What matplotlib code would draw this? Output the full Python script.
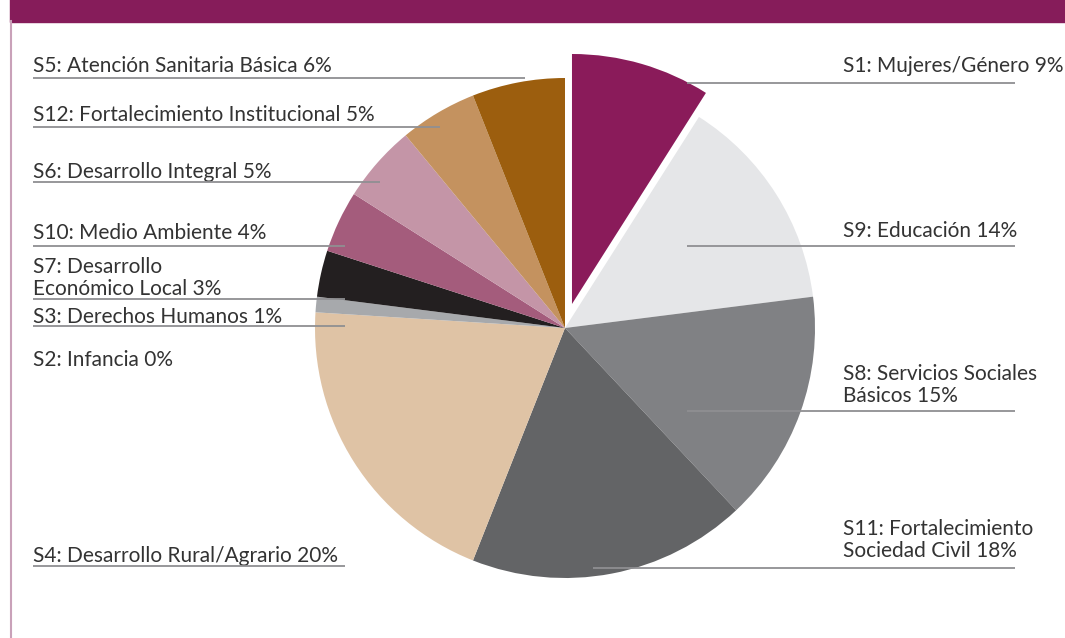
import matplotlib
matplotlib.use("Agg")
import matplotlib.pyplot as plt
from matplotlib.patches import Rectangle

# ---- data ----
sectors = ["S1: Mujeres/Género", "S9: Educación", "S8: Servicios Sociales\nBásicos",
           "S11: Fortalecimiento\nSociedad Civil", "S4: Desarrollo Rural/Agrario",
           "S2: Infancia", "S3: Derechos Humanos", "S7: Desarrollo\nEconómico Local",
           "S10: Medio Ambiente", "S6: Desarrollo Integral",
           "S12: Fortalecimiento Institucional", "S5: Atención Sanitaria Básica"]
shares = [9, 14, 15, 18, 20, 0, 1, 3, 4, 5, 5, 6]
colors = ["#8A1B5A", "#E5E6E8", "#808184", "#636466", "#DFC3A5", "#F2E0CC",
          "#A7A9AC", "#231F20", "#A45C7C", "#C495A7", "#C4925F", "#9C5E0E"]

# ---- layout (pixel coordinates, y from top) ----
W, H = 1065, 638
CX, CY, R = 565, 328, 250
# label: (text x, text y-center, line y, line x0, line x1)
label_layout = [
    (843, 66, 83, 687, 1015),
    (843, 231, 246, 687, 1015),
    (843, 385, 411, 687, 1015),
    (843, 540, 568, 593, 1015),
    (33, 556, 566, 33, 345),
    (33, 360, None, None, None),
    (33, 317, 326, 33, 345),
    (33, 278, 299, 33, 345),
    (33, 233, 246, 33, 345),
    (33, 172, 182, 33, 380),
    (33, 115, 127, 33, 440),
    (33, 66, 78, 33, 525),
]

fig = plt.figure(figsize=(W / 100, H / 100), dpi=100)
ax = fig.add_axes([0, 0, 1, 1])

def fy(y):
    return H - y

explode = [25 if i == 0 else 0 for i in range(len(shares))]
ax.pie(shares, colors=colors, startangle=90, counterclock=False,
       center=(CX, fy(CY)), radius=R, explode=explode,
       wedgeprops=dict(linewidth=0), frame=True)

ax.set_xlim(0, W)
ax.set_ylim(0, H)
ax.set_aspect('auto')
ax.axis('off')

# banner and left border
ax.add_patch(Rectangle((10, fy(21.5)), W - 10, 25, color="#861C5A", zorder=5))
ax.plot([11, 11], [fy(21), fy(H + 5)], color="#C9A1B9", lw=1.5, zorder=5)

text_font = dict(family=["Lato", "DejaVu Sans"], fontsize=15, fontweight="normal",
                 color="#333333")
for name, val, (tx, ty, ly, lx0, lx1) in zip(sectors, shares, label_layout):
    lbl = f"{name} {val}%"
    ax.text(tx, fy(ty), lbl, ha="left", va="center", linespacing=1.1, zorder=6,
            **text_font)
    if ly is not None:
        ax.plot([lx0, lx1], [fy(ly), fy(ly)], color="#8F8F92", lw=1.3, zorder=6,
                solid_capstyle="butt")

fig.savefig("out.png", dpi=100)
